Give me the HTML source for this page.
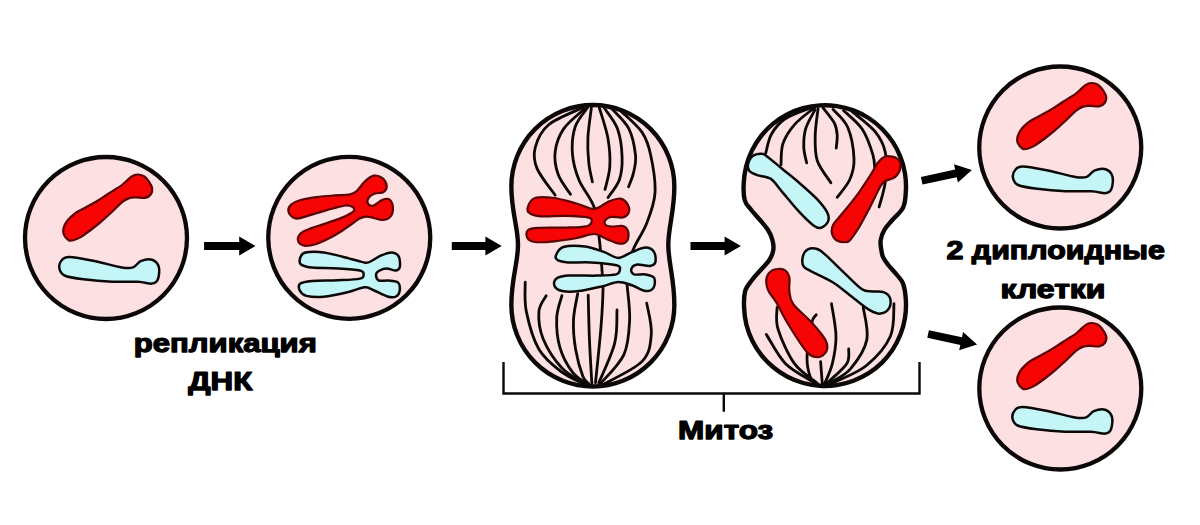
<!DOCTYPE html>
<html><head><meta charset="utf-8"><style>html,body{margin:0;padding:0;background:#fff;overflow:hidden}svg{display:block}</style></head><body>
<svg width="1200" height="525" viewBox="0 0 1200 525">
<rect width="1200" height="525" fill="#fff"/>
<circle cx="106" cy="238" r="81" fill="#fde0e1" stroke="#0c0808" stroke-width="4.3"/>
<circle cx="349.25" cy="237.8" r="81" fill="#fde0e1" stroke="#0c0808" stroke-width="4.3"/>
<circle cx="1060.25" cy="147.5" r="81" fill="#fde0e1" stroke="#0c0808" stroke-width="4.3"/>
<circle cx="1060.3" cy="388.5" r="81" fill="#fde0e1" stroke="#0c0808" stroke-width="4.3"/>
<path d="M68.6 240.2C66.9 239.2 64.4 236 63.6 234C62.8 232 63 230.2 63.6 228C64.2 225.8 65.6 222.9 67.5 220.5C69.4 218.1 72 215.5 75 213.3C78 211.1 82 209.4 85.5 207.5C89 205.6 92.4 203.9 95.9 201.8C99.4 199.7 103.2 197 106.4 195C109.6 193 112.2 191.4 114.8 189.7C117.4 188 119.2 187.2 122 185C124.8 182.8 129.1 178.2 131.7 176.4C134.3 174.7 135.4 174.6 137.4 174.5C139.4 174.4 141.8 175.1 143.5 176C145.2 176.9 146.5 178.2 147.9 180.2C149.3 182.2 151.6 185.5 152.1 187.9C152.6 190.3 151.9 192.8 150.7 194.5C149.5 196.2 147.4 197.4 145 197.9C142.6 198.4 138.9 197.4 136.4 197.4C133.9 197.4 132.2 197.1 129.8 197.9C127.4 198.7 125.1 199.7 122.1 202.1C119.1 204.5 115.1 208.9 111.6 212.2C108.1 215.4 104.7 218.6 101.2 221.6C97.7 224.6 94.2 227.4 90.7 230C87.2 232.6 83 235.7 80.2 237.4C77.4 239.1 75.9 239.5 74 240C72.1 240.5 70.3 241.2 68.6 240.2Z" fill="#f70505" stroke="#5a0404" stroke-width="2.2" stroke-linejoin="round"/>
<path d="M59.3 267.9C58.9 265.3 60.3 261.8 62 260C63.7 258.2 64.1 256.8 69.3 256.9C74.5 257 84.4 258.9 93.1 260.7C101.8 262.4 115 266.3 121.7 267.4C128.4 268.5 129.9 268.4 133.1 267.4C136.3 266.4 137.5 262.5 140.7 261.2C143.9 259.9 149.1 258.9 152.1 259.8C155.1 260.8 157.8 263.6 158.8 266.9C159.8 270.1 159 276.5 157.9 279.3C156.8 282.1 155.4 283.2 152.1 283.6C148.8 284 144.6 282 137.9 281.7C131.2 281.4 121.1 282.1 112.1 281.7C103 281.3 91.5 280.3 83.6 279.3C75.7 278.3 68.5 277.4 64.5 275.5C60.5 273.6 59.7 270.5 59.3 267.9Z" fill="#c4f6f8" stroke="#0c0808" stroke-width="2.5" stroke-linejoin="round"/>
<path d="M288.3 210.5C288.1 208.4 289.3 206.1 291.4 204.3C293.5 202.6 296.5 201.2 300.7 200C304.9 198.8 310.7 197.9 316.4 197.1C322.1 196.3 329.5 195.8 335 195.4C340.5 195 345.7 195.3 349.3 194.6C352.9 193.9 353.8 193.6 356.4 191.4C359 189.2 362.1 184 365 181.4C367.9 178.8 370.8 176.3 373.6 175.7C376.5 175.1 379.9 176.2 382.1 177.9C384.3 179.6 386.4 183.3 386.7 185.7C386.9 188.1 385.6 190.8 383.6 192.1C381.7 193.4 377.5 192.6 375 193.6C372.5 194.6 369.8 196.2 368.6 197.9C367.4 199.6 367.2 202.3 367.9 203.6C368.6 204.9 370.5 206.3 372.9 205.7C375.3 205.1 379.4 201.1 382.1 200C384.8 198.9 387.5 198.1 389.3 199.3C391.1 200.5 392.7 204.2 392.9 207.1C393.1 209.9 392.5 214.2 390.7 216.4C388.9 218.6 385.4 219.9 382.1 220C378.8 220.1 373.6 217.6 370.7 217.1C367.8 216.6 366.6 216.5 364.6 216.8C362.6 217.1 360.8 217.8 358.6 219C356.5 220.2 354.6 222 351.7 224C348.8 226 345.2 228.8 341.4 231.2C337.5 233.6 332.9 236.4 328.6 238.6C324.3 240.8 319.6 243 315.7 244.2C311.8 245.4 308 245.8 305.4 245.8C302.8 245.8 301.6 245.1 300.3 244.2C299.1 243.2 298.1 241.5 297.9 240.1C297.6 238.7 298 237.2 298.8 235.8C299.6 234.4 300.8 232.9 302.9 231.6C305 230.3 307.8 229.4 311.4 228.1C315 226.8 319.3 225.6 324.3 223.9C329.3 222.2 337 219.6 341.4 217.9C345.8 216.2 348.4 214.8 350.5 213.5C352.6 212.2 353.9 211.4 354.2 210.3C354.5 209.2 353.7 207.7 352.3 206.9C350.9 206.1 348.9 205.2 345.7 205.5C342.4 205.8 337.8 207.2 332.8 208.5C327.8 209.8 321.4 211.8 315.7 213.4C310 215.1 302.5 217.8 298.6 218.4C294.7 219 294 218.3 292.3 217C290.6 215.7 288.5 212.6 288.3 210.5Z" fill="#f70505" stroke="#5a0404" stroke-width="2.2" stroke-linejoin="round"/>
<path d="M299.7 259.9C300 258 301.4 254.8 303 253.5C304.6 252.2 305.9 252.1 309.3 251.9C312.7 251.7 318.1 251.6 323.6 252.4C329.2 253.2 336.2 255.1 342.6 256.7C349 258.3 357.4 260.9 361.7 261.9C366 262.8 365.3 263.4 368.5 262.4C371.7 261.4 376.8 257.4 380.7 255.7C384.6 254 389.1 252.2 392.1 252.4C395.1 252.6 397.5 254.2 398.8 256.7C400.1 259.1 400.3 264.8 399.8 267.1C399.3 269.4 398.2 270.2 396 270.5C393.8 270.8 389.3 268.5 386.4 268.6C383.5 268.7 380.5 270 378.8 271C377.1 272 376 273.2 376 274.8C376 276.4 376.8 279.6 378.8 280.5C380.9 281.4 385.1 280.2 388.3 280.5C391.5 280.8 396 280.8 397.9 282.4C399.8 284 400.1 287.6 399.8 290C399.5 292.4 398.1 295.4 396 296.5C393.9 297.6 391.2 297.6 387.4 296.5C383.6 295.4 376.9 291.5 373.1 290C369.3 288.5 368.8 286.9 364.5 287.3C360.2 287.7 354.2 290.7 347.4 292.3C340.6 293.9 330.4 296.2 323.6 296.8C316.8 297.4 310.4 296.9 306.4 295.9C302.4 294.8 300.8 292.6 299.8 290.5C298.8 288.4 298.2 285.2 300.3 283.6C302.4 282 305.8 281.6 312.1 281C318.4 280.4 329.9 280.7 337.9 280.3C345.8 279.9 355.5 279.6 359.8 278.6C364.1 277.7 363.6 276 363.6 274.6C363.6 273.2 364.1 271.5 359.8 270.5C355.5 269.5 345.8 268.9 337.9 268.4C329.9 267.9 318.2 268.2 312.1 267.6C306 267 303.3 265.9 301.2 264.6C299.1 263.3 299.4 261.8 299.7 259.9Z" fill="#c4f6f8" stroke="#0c0808" stroke-width="2.5" stroke-linejoin="round"/>
<path d="M1022.6 148.7C1020.9 147.7 1018.4 144.5 1017.6 142.5C1016.8 140.5 1017 138.8 1017.6 136.5C1018.2 134.2 1019.6 131.4 1021.5 129C1023.4 126.5 1026 124 1029 121.8C1032 119.6 1036 117.9 1039.5 116C1043 114.1 1046.4 112.4 1049.9 110.3C1053.4 108.2 1057.2 105.5 1060.4 103.5C1063.6 101.5 1066.2 99.9 1068.8 98.2C1071.4 96.5 1073.2 95.7 1076 93.5C1078.8 91.3 1083.1 86.7 1085.7 84.9C1088.3 83.2 1089.4 83.1 1091.4 83C1093.4 82.9 1095.8 83.5 1097.5 84.5C1099.2 85.5 1100.5 86.7 1101.9 88.7C1103.3 90.7 1105.6 94 1106.1 96.4C1106.6 98.8 1105.9 101.3 1104.7 103C1103.5 104.7 1101.4 105.9 1099 106.4C1096.6 106.9 1092.9 105.9 1090.4 105.9C1087.9 105.9 1086.2 105.6 1083.8 106.4C1081.4 107.2 1079.1 108.2 1076.1 110.6C1073.1 113 1069.1 117.4 1065.6 120.7C1062.1 123.9 1058.7 127.1 1055.2 130.1C1051.7 133.1 1048.2 135.9 1044.7 138.5C1041.2 141.1 1037 144.2 1034.2 145.9C1031.4 147.6 1029.9 148 1028 148.5C1026.1 149 1024.3 149.7 1022.6 148.7Z" fill="#f70505" stroke="#5a0404" stroke-width="2.2" stroke-linejoin="round"/>
<path d="M1012.9 177.4C1012.5 174.8 1013.9 171.3 1015.6 169.5C1017.3 167.7 1017.7 166.3 1022.9 166.4C1028.1 166.5 1038 168.4 1046.7 170.2C1055.4 171.9 1068.6 175.8 1075.3 176.9C1082 178 1083.5 177.9 1086.7 176.9C1089.9 175.9 1091.1 172 1094.3 170.7C1097.5 169.4 1102.7 168.4 1105.7 169.3C1108.7 170.2 1111.4 173.1 1112.4 176.4C1113.4 179.6 1112.6 186 1111.5 188.8C1110.4 191.6 1109 192.7 1105.7 193.1C1102.4 193.5 1098.2 191.5 1091.5 191.2C1084.8 190.9 1074.8 191.6 1065.7 191.2C1056.7 190.8 1045.1 189.8 1037.2 188.8C1029.3 187.8 1022.2 186.9 1018.1 185C1014 183.1 1013.3 180 1012.9 177.4Z" fill="#c4f6f8" stroke="#0c0808" stroke-width="2.5" stroke-linejoin="round"/>
<path d="M1022.7 388.7C1021 387.7 1018.5 384.5 1017.7 382.5C1016.9 380.5 1017.1 378.8 1017.7 376.5C1018.4 374.2 1019.7 371.4 1021.6 369C1023.5 366.6 1026.1 364 1029.1 361.8C1032.1 359.6 1036.1 357.9 1039.6 356C1043.1 354.1 1046.5 352.4 1050 350.3C1053.5 348.2 1057.3 345.5 1060.5 343.5C1063.7 341.5 1066.3 339.9 1068.9 338.2C1071.5 336.5 1073.3 335.7 1076.1 333.5C1078.9 331.3 1083.2 326.6 1085.8 324.9C1088.4 323.1 1089.5 323.1 1091.5 323C1093.5 322.9 1095.8 323.6 1097.6 324.5C1099.3 325.4 1100.6 326.7 1102 328.7C1103.4 330.7 1105.7 334 1106.2 336.4C1106.7 338.8 1106 341.3 1104.8 343C1103.6 344.7 1101.5 345.9 1099.1 346.4C1096.7 346.9 1093 345.9 1090.5 345.9C1088 345.9 1086.3 345.6 1083.9 346.4C1081.5 347.2 1079.2 348.2 1076.2 350.6C1073.2 353 1069.2 357.4 1065.7 360.7C1062.2 363.9 1058.8 367.1 1055.3 370.1C1051.8 373.1 1048.3 375.9 1044.8 378.5C1041.3 381.1 1037.1 384.2 1034.3 385.9C1031.5 387.6 1030 388 1028.1 388.5C1026.2 389 1024.4 389.7 1022.7 388.7Z" fill="#f70505" stroke="#5a0404" stroke-width="2.2" stroke-linejoin="round"/>
<path d="M1012.4 417.9C1012 415.3 1013.4 411.8 1015.1 410C1016.8 408.2 1017.2 406.8 1022.4 406.9C1027.6 407 1037.5 408.9 1046.2 410.7C1054.9 412.4 1068.1 416.3 1074.8 417.4C1081.5 418.5 1083 418.4 1086.2 417.4C1089.4 416.4 1090.6 412.5 1093.8 411.2C1097 409.9 1102.2 408.9 1105.2 409.8C1108.2 410.8 1110.9 413.6 1111.9 416.9C1112.9 420.1 1112.1 426.5 1111 429.3C1109.9 432.1 1108.5 433.2 1105.2 433.6C1101.9 434 1097.7 432 1091 431.7C1084.3 431.4 1074.2 432.1 1065.2 431.7C1056.2 431.3 1044.6 430.3 1036.7 429.3C1028.8 428.3 1021.7 427.4 1017.6 425.5C1013.5 423.6 1012.8 420.5 1012.4 417.9Z" fill="#c4f6f8" stroke="#0c0808" stroke-width="2.5" stroke-linejoin="round"/>
<path d="M511.35 186.5 A81.5 81.5 0 0 1 674.35 186.5 C674.35 212 668.3 227 668.3 245 C668.3 263 674.35 278 674.35 305 A81.5 81.5 0 0 1 511.35 305 C511.35 278 518 263 518 245 C518 227 511.35 212 511.35 186.5 Z" fill="#fde0e1" stroke="#0c0808" stroke-width="4.4"/>
<path d="M744.8 200.5C743.6 196.1 743.4 189.1 743.7 183.5C743.9 177.8 744.7 172.1 746.1 166.6C747.4 161.1 749.4 155.7 751.9 150.6C754.4 145.5 757.5 140.6 761 136.1C764.5 131.7 768.6 127.5 772.9 123.9C777.3 120.3 782.1 117.1 787.1 114.5C792.1 111.8 797.5 109.7 803 108.2C808.4 106.7 814.2 105.7 819.8 105.4C825.4 105 831.3 105.3 836.8 106.1C842.4 106.9 848.1 108.4 853.4 110.4C858.6 112.4 863.8 115 868.6 118C873.4 121.1 877.9 124.7 881.9 128.7C885.9 132.7 889.6 137.2 892.7 141.9C895.8 146.6 898.5 151.8 900.5 157.1C902.6 162.3 904.1 167.9 905 173.5C905.9 179.1 906.2 184.9 905.9 190.6C905.6 196.2 905.5 202.5 903.2 207.4C901 212.3 895.5 216.2 892.3 220C889.1 223.8 886.2 226.7 884.3 230C882.4 233.3 881.2 237 880.7 240C880.2 243 880.6 245.2 881 248C881.4 250.8 881.8 254.2 883 257C884.2 259.8 886 262 888.3 265C890.6 268 894.5 271.8 897 275C899.5 278.2 901.8 279.7 903.2 284C904.7 288.3 905.6 295.2 905.9 300.8C906.2 306.5 905.9 312.3 905 317.8C904.1 323.4 902.6 329 900.5 334.3C898.5 339.5 895.8 344.7 892.8 349.4C889.7 354.1 886 358.6 882 362.6C878 366.5 873.4 370.2 868.7 373.2C863.9 376.2 858.8 378.8 853.5 380.8C848.2 382.8 842.6 384.3 837 385.1C831.4 385.9 825.6 386.2 820 385.8C814.4 385.5 808.7 384.5 803.2 383C797.8 381.5 792.4 379.4 787.4 376.8C782.4 374.1 777.6 370.9 773.3 367.3C768.9 363.7 764.9 359.6 761.4 355.1C757.9 350.7 754.8 345.8 752.3 340.7C749.8 335.7 747.8 330.2 746.4 324.8C745.1 319.3 744.3 313.5 744.1 307.9C743.8 302.3 743.9 295.6 745.2 290.9C746.6 286.3 749.4 283.5 752 280C754.6 276.5 757.8 273.3 760.7 270C763.6 266.7 767.2 263.3 769.3 260C771.4 256.7 772.8 253.3 773.3 250C773.8 246.7 773.3 243.3 772.4 240C771.5 236.7 770.1 233.3 768 230C765.9 226.7 762.8 223.3 760 220C757.2 216.7 753.8 213.2 751.3 210C748.8 206.8 746.1 204.9 744.8 200.5Z" fill="#fde0e1" stroke="#0c0808" stroke-width="4.4"/>
<path d="M582.9 107.6C577.2 110.5 556.5 118.1 548.6 124.8C540.7 131.5 537.1 140.3 535.2 147.6C533.3 154.9 533.8 160.7 537.1 168.6C540.4 176.5 552.2 190.8 555.2 195.2" fill="none" stroke="#0c0808" stroke-width="2.8" stroke-linecap="round"/>
<path d="M584.8 108.6C581.3 111.9 568.7 121.5 563.8 128.6C558.9 135.7 556.2 143.8 555.2 151.4C554.2 159 555.6 167.2 558.1 174.3C560.6 181.5 568.4 191 570.5 194.3" fill="none" stroke="#0c0808" stroke-width="2.8" stroke-linecap="round"/>
<path d="M587.6 107.6C585.5 110.8 577.7 119.1 575.2 126.7C572.7 134.3 571.8 144.4 572.4 153.3C573 162.2 575.4 171.1 579 180C582.6 188.9 590.6 197 594 207C597.4 217 598.1 229.5 599.4 240C600.7 250.5 601.4 261.7 602 270C602.6 278.3 603.2 280.5 603 290C602.8 299.5 602.2 311.6 601 327C599.8 342.4 596.4 373.4 595.5 382.7" fill="none" stroke="#0c0808" stroke-width="2.8" stroke-linecap="round"/>
<path d="M591.4 107.6C590.8 112.7 588.3 128.8 587.9 138C587.5 147.2 588 155.6 588.8 162.9C589.5 170.2 591.8 178.7 592.4 181.9" fill="none" stroke="#0c0808" stroke-width="2.8" stroke-linecap="round"/>
<path d="M599.3 107.6C600.7 112.7 606.1 128.2 607.9 138C609.6 147.8 610.3 158.1 609.8 166.7C609.3 175.3 605.8 185.7 605 189.5" fill="none" stroke="#0c0808" stroke-width="2.8" stroke-linecap="round"/>
<path d="M604 107.6C606.2 111.1 614.4 120.3 617.4 128.6C620.4 136.8 621.8 148.5 622.1 157.1C622.4 165.7 621.6 173.3 619.3 180C616.9 186.7 609.9 194.6 608 197.5" fill="none" stroke="#0c0808" stroke-width="2.8" stroke-linecap="round"/>
<path d="M611.7 108.6C614.6 111.9 624.8 120.8 628.8 128.6C632.8 136.4 634.7 147.9 635.5 155.2C636.3 162.5 634.8 167.1 633.6 172.4C632.5 177.7 629.4 184.4 628.6 186.8" fill="none" stroke="#0c0808" stroke-width="2.8" stroke-linecap="round"/>
<path d="M621.2 111.4C624.7 114.9 637.2 125.1 642.1 132.4C647 139.7 648.6 145.1 650.7 155.2C652.9 165.3 655.7 181.5 655 192.9C654.3 204.3 650.3 213.9 646.6 223.4C642.9 232.9 636.4 241.4 633 250C629.6 258.6 627 268.8 626 275C625 281.2 626.7 279.6 627.3 287.1C627.9 294.7 630.2 309.1 629.6 320.3C629 331.6 628.7 344.1 623.9 354.6C619.1 365.1 604.8 378.4 601 383.1" fill="none" stroke="#0c0808" stroke-width="2.8" stroke-linecap="round"/>
<path d="M525.2 282.1C525.4 287 524 300.2 526.3 311.4C528.6 322.6 533 339.1 538.9 349.2C544.8 359.3 554.4 366.4 561.9 372.2C569.4 378 580.3 382 584 384" fill="none" stroke="#0c0808" stroke-width="2.8" stroke-linecap="round"/>
<path d="M546.2 295.7C545 298.3 539.4 304.2 538.9 311.4C538.4 318.6 539.3 329.3 543.1 338.7C546.9 348.1 554.9 360.4 561.9 368C568.9 375.6 581.1 381.3 585 384" fill="none" stroke="#0c0808" stroke-width="2.8" stroke-linecap="round"/>
<path d="M561.9 295.7C561 299.4 557.1 309.1 556.7 317.7C556.4 326.3 557.2 338 559.8 347.1C562.4 356.2 567.9 366.1 572.4 372.2C576.9 378.3 584.6 382 587 384" fill="none" stroke="#0c0808" stroke-width="2.8" stroke-linecap="round"/>
<path d="M577.7 293.6C577 298 573.9 310.5 573.5 319.8C573.1 329.1 574 339.8 575.6 349.2C577.2 358.6 580.7 370.6 582.9 376.4C585.1 382.2 588 382.7 589 384" fill="none" stroke="#0c0808" stroke-width="2.8" stroke-linecap="round"/>
<path d="M588.2 295.1C588.4 302.4 588.8 323.7 589.4 338.6C590 353.5 591.5 376.7 591.9 384.3" fill="none" stroke="#0c0808" stroke-width="2.8" stroke-linecap="round"/>
<path d="M617 310C616.6 315.5 617.8 330.9 614.7 343.1C611.7 355.3 601.4 376.4 598.7 383" fill="none" stroke="#0c0808" stroke-width="2.8" stroke-linecap="round"/>
<path d="M646.7 303.1C647.5 308.2 652.1 324.3 651.3 334C650.5 343.7 650.1 353 642.1 361.4C634.1 369.8 609.8 380.5 603.3 384.3" fill="none" stroke="#0c0808" stroke-width="2.8" stroke-linecap="round"/>
<path d="M811.4 107.6C807 109.5 791.5 114.5 784.8 119C778.1 123.5 774.6 128.6 771.4 134.3C768.2 140 766.7 150.1 765.7 153.3" fill="none" stroke="#0c0808" stroke-width="2.8" stroke-linecap="round"/>
<path d="M813.3 108.6C810.1 111.3 799.4 118.9 794.3 124.8C789.2 130.7 785.1 137.1 782.9 143.8C780.7 150.5 781.3 161.3 781 164.8" fill="none" stroke="#0c0808" stroke-width="2.8" stroke-linecap="round"/>
<path d="M815.2 109.5C813.6 112.7 807.6 122.2 805.7 128.6C803.8 134.9 803.6 141.9 803.8 147.6C804 153.3 806.2 160.3 806.7 162.9" fill="none" stroke="#0c0808" stroke-width="2.8" stroke-linecap="round"/>
<path d="M818.1 108.6C817.6 113.1 815.3 126.9 815.2 135.6C815.1 144.3 814.7 152.8 817.3 160.7C819.9 168.5 828.6 179 830.9 182.7" fill="none" stroke="#0c0808" stroke-width="2.8" stroke-linecap="round"/>
<path d="M822.9 107.6C824.8 110.1 831.9 118.3 834.3 122.9C836.7 127.5 836.9 130.8 837.2 135C837.5 139.2 836.4 145.9 836.2 148.1" fill="none" stroke="#0c0808" stroke-width="2.8" stroke-linecap="round"/>
<path d="M833 109.4C835.5 112.4 844.2 119 847.7 127.2C851.2 135.4 853.6 149.9 854 158.6C854.4 167.3 852.6 173.1 849.8 179.5C847 185.9 839.3 194.3 837.2 197.3" fill="none" stroke="#0c0808" stroke-width="2.8" stroke-linecap="round"/>
<path d="M843.5 110.5C846.6 113.6 857.4 122 862.3 129.3C867.2 136.6 870.7 147.6 872.8 154.4C874.9 161.2 874.5 167.4 874.9 170" fill="none" stroke="#0c0808" stroke-width="2.8" stroke-linecap="round"/>
<path d="M851.9 111.5C855.7 114.8 869.3 124.6 874.9 131.4C880.5 138.2 883.6 143.9 885.3 152.3C887 160.7 886.3 172.5 885.3 181.6C884.3 190.7 880.1 202.8 879.1 207" fill="none" stroke="#0c0808" stroke-width="2.8" stroke-linecap="round"/>
<path d="M766.3 334.4C769.5 339.2 777.6 355.5 785.3 363.4C793 371.2 807 377.9 812.5 381.5C818 385.1 817.1 384.4 818 385" fill="none" stroke="#0c0808" stroke-width="2.8" stroke-linecap="round"/>
<path d="M777.1 307.2C777.2 310.8 775.1 319.6 778 329C780.9 338.4 787.9 354.5 794.3 363.4C800.6 372.3 812 378.8 816.1 382.4C820.2 386 818.5 384.6 819 385" fill="none" stroke="#0c0808" stroke-width="2.8" stroke-linecap="round"/>
<path d="M816.2 314.8C815.4 316.3 813.1 316.4 811.6 323.6C810.1 330.8 807.1 348.9 807 358C806.9 367.1 808.9 373.4 810.7 377.9C812.5 382.4 816.8 383.8 818 385" fill="none" stroke="#0c0808" stroke-width="2.8" stroke-linecap="round"/>
<path d="M820.6 361.6C820.9 365.5 822.1 381.1 822.4 385" fill="none" stroke="#0c0808" stroke-width="2.8" stroke-linecap="round"/>
<path d="M831.5 303.6C832.2 309 835.9 326.2 836 336.2C836.1 346.2 834.2 355.7 832.4 363.4C830.6 371.1 826.7 378.8 825.1 382.4C823.5 386 823.4 384.6 823 385" fill="none" stroke="#0c0808" stroke-width="2.8" stroke-linecap="round"/>
<path d="M848.7 348.9C848.4 351.3 850.2 358 846.9 363.4C843.6 368.8 832.4 377.9 828.8 381.5C825.1 385.1 825.6 384.4 825 385" fill="none" stroke="#0c0808" stroke-width="2.8" stroke-linecap="round"/>
<path d="M863.2 307.2C863.8 312.6 868.9 329.6 866.8 339.9C864.7 350.2 856.5 361.7 850.5 368.8C844.5 375.9 834.7 379.7 830.6 382.4C826.5 385.1 826.8 384.6 826 385" fill="none" stroke="#0c0808" stroke-width="2.8" stroke-linecap="round"/>
<path d="M894 303.6C893.4 309 894.9 325.9 890.4 336.2C885.9 346.5 875.9 357.6 866.8 365.2C857.7 372.8 842.5 378.2 836 381.5C829.5 384.8 829.3 384.4 828 385" fill="none" stroke="#0c0808" stroke-width="2.8" stroke-linecap="round"/>
<path d="M528 206.5C528.9 204 530.5 199.4 534.9 198C539.3 196.6 547.3 197.1 554.3 198C561.3 198.9 570.4 201.9 577.1 203.7C583.8 205.5 589 209.3 594.3 208.9C599.6 208.5 604.7 203.1 609.1 201.4C613.5 199.7 617.5 198 620.6 198.6C623.8 199.2 626.7 202.5 628 204.9C629.3 207.3 629.5 210.8 628.6 212.9C627.8 215 625.8 216.7 622.9 217.4C620 218.1 614.3 216.5 611.4 216.9C608.5 217.3 606.8 218.5 605.7 219.7C604.7 220.9 604.2 223.2 605.1 224.3C606 225.5 608.4 226.3 611.4 226.6C614.4 226.9 620.1 225.2 622.9 226C625.7 226.8 627.2 228.7 628 231.1C628.8 233.5 628.8 238.2 627.4 240.3C626 242.4 622.8 243.9 619.4 243.7C616 243.5 611.1 240.7 606.9 239.1C602.7 237.5 599.3 234.2 594.3 234C589.3 233.8 583.8 236.8 577.1 238C570.4 239.2 561.3 240.7 554.3 241.4C547.3 242.1 539.4 242.6 534.9 242C530.4 241.4 528.5 240 527.4 238C526.2 236 525.8 231.7 528 230C530.2 228.3 534.3 228.2 540.6 227.8C546.9 227.4 558.1 227.8 565.7 227.6C573.3 227.3 582 227.2 586.3 226.3C590.6 225.4 591 223.9 591.4 222.4C591.8 220.9 592.9 218.7 588.6 217.6C584.3 216.5 573.7 216.1 565.7 215.9C557.7 215.7 546.6 216.8 540.6 216.3C534.6 215.9 531.6 214.8 529.5 213.2C527.4 211.6 527.1 209 528 206.5Z" fill="#f70505" stroke="#5a0404" stroke-width="2.2" stroke-linejoin="round"/>
<path d="M555.9 255.6C556.8 253.4 558.4 248.5 563.3 247C568.1 245.5 578.1 245.6 585 246.4C591.9 247.2 598.9 250.2 604.4 252.1C609.9 254 613.5 257.9 618.1 257.9C622.7 257.9 627.3 253.8 631.9 252.1C636.5 250.4 641.9 247.6 645.6 247.6C649.3 247.6 652.5 249.6 654.1 252.1C655.7 254.6 656 260.1 655.3 262.4C654.6 264.7 653.2 265.5 650.1 265.9C647 266.3 639.5 264.1 636.4 264.7C633.3 265.3 631.7 267.7 631.3 269.3C630.9 270.9 631.7 273.5 634.1 274.4C636.5 275.2 642.3 273.8 645.6 274.4C648.9 275 652.8 275.7 654.1 277.9C655.4 280.1 655 285.4 653.6 287.6C652.2 289.8 649.2 291.4 645.6 291C642 290.6 636.5 286.8 631.9 285.3C627.3 283.8 623.1 281.7 618.1 281.9C613.1 282.1 608.6 284.9 602.1 286.4C595.6 287.9 586 290.2 579.3 291C572.6 291.8 566.2 291.8 562.1 291C558 290.2 555.7 288.4 554.7 286.4C553.7 284.4 553.7 280.8 555.9 279C558.1 277.2 561.1 276.2 567.9 275.6C574.6 275 588.4 275.8 596.4 275.6C604.4 275.4 612 275.4 615.9 274.4C619.8 273.3 619.8 270.8 619.9 269.3C620 267.8 621.3 266.5 616.4 265.3C611.5 264.1 598.8 262.9 590.7 262.4C582.6 261.9 573.4 262.8 567.9 262.4C562.4 262 559.6 261.2 557.6 260.1C555.6 259 555 257.8 555.9 255.6Z" fill="#c4f6f8" stroke="#0c0808" stroke-width="2.5" stroke-linejoin="round"/>
<path d="M748 164.5C748.5 162 750.3 157.9 752.6 156.1C754.9 154.3 759.3 153.7 761.8 153.8C764.3 153.9 764.5 154.5 767.8 156.9C771.1 159.3 776.4 164.1 781.5 168.3C786.6 172.5 792.4 176.9 798.3 182C804.1 187.1 811.8 193.6 816.6 198.7C821.4 203.8 825.3 208.6 827.2 212.4C829.1 216.2 829 219.1 828 221.6C827 224.1 823.5 227.1 821.1 227.7C818.7 228.3 817.3 228.2 813.5 225.4C809.7 222.6 803.6 216.6 798.3 210.9C793 205.2 786.1 196.4 781.5 191.1C776.9 185.8 774.9 181.6 770.9 178.9C766.9 176.2 760.8 176.4 757.2 175.1C753.7 173.8 751.1 173.1 749.6 171.3C748.1 169.5 747.5 167 748 164.5Z" fill="#c4f6f8" stroke="#0c0808" stroke-width="2.5" stroke-linejoin="round"/>
<path d="M831.6 231.4C831.7 233.7 832.8 236.3 834 238C835.2 239.7 837.1 240.7 838.9 241.4C840.7 242.1 843.2 242.2 845 242C846.8 241.8 847.4 242.9 849.7 240.5C852 238.1 855.5 233.2 858.8 227.8C862.1 222.4 866 214.8 869.6 207.9C873.2 201 877.8 190.7 880.5 186.2C883.2 181.7 883.5 182.3 885.9 180.8C888.3 179.3 892.6 179.2 895 177.1C897.4 175 899.9 171.1 900.4 168.1C900.9 165.1 900.1 161 897.7 159C895.3 157 889.2 155.7 885.9 156.3C882.6 156.9 880.2 159.8 877.8 162.7C875.4 165.6 874.9 168.1 871.4 173.5C867.9 178.9 861.8 188.6 857 195.2C852.2 201.8 846.4 208.5 842.5 213.3C838.6 218.1 835.2 221.2 833.4 224.2C831.6 227.2 831.5 229.1 831.6 231.4Z" fill="#f70505" stroke="#5a0404" stroke-width="2.2" stroke-linejoin="round"/>
<path d="M766.4 279C767 275.7 769.2 272.1 772.1 270.5C775 268.9 780.7 268.4 783.6 269.5C786.5 270.6 788.3 273.6 789.3 277.1C790.2 280.6 788.7 286.1 789.3 290.5C789.9 294.9 789.3 298.4 793.1 303.8C796.9 309.2 806.7 316.9 812.1 322.9C817.5 328.9 823.1 335.2 825.5 340C827.9 344.8 827.7 348.5 826.4 351.4C825.1 354.2 821.2 357.1 817.9 357.1C814.6 357.1 811.5 357.1 806.4 351.4C801.3 345.7 792.5 331.1 787.4 322.9C782.3 314.6 779.2 307.3 776 301.9C772.8 296.5 769.9 294.3 768.3 290.5C766.7 286.7 765.8 282.3 766.4 279Z" fill="#f70505" stroke="#5a0404" stroke-width="2.2" stroke-linejoin="round"/>
<path d="M802.9 256.4C803.6 253.5 805.4 250.5 807.9 249.3C810.4 248.1 814.8 248.2 817.9 249.3C821 250.4 821.9 251.6 826.4 255.7C830.9 259.8 839 268 845 273.6C851 279.2 857.6 286.3 862.1 289.3C866.6 292.3 868.5 290.9 872.1 291.4C875.7 291.9 880.6 291 883.6 292.1C886.6 293.2 889 295.3 890 297.9C891 300.5 890.8 305.3 889.3 307.9C887.8 310.5 883.8 313.1 880.7 313.6C877.6 314.1 875 313.1 870.7 310.7C866.4 308.3 861 303.8 855 299.3C849 294.8 841.4 288.1 835 283.8C828.6 279.6 821.6 276.7 816.4 273.8C811.2 270.9 806 269.4 803.8 266.5C801.5 263.6 802.2 259.3 802.9 256.4Z" fill="#c4f6f8" stroke="#0c0808" stroke-width="2.5" stroke-linejoin="round"/>
<polygon transform="translate(204.1 246) rotate(0)" points="0,-3.9 35.1,-3.9 35.1,-9.4 51.4,0 35.1,9.4 35.1,3.9 0,3.9" fill="#000"/>
<polygon transform="translate(451.8 246) rotate(0)" points="0,-3.9 33.6,-3.9 33.6,-9.4 49.9,0 33.6,9.4 33.6,3.9 0,3.9" fill="#000"/>
<polygon transform="translate(690.5 246) rotate(0)" points="0,-3.9 34.1,-3.9 34.1,-9.4 50.4,0 34.1,9.4 34.1,3.9 0,3.9" fill="#000"/>
<polygon transform="translate(921.7 180.7) rotate(-12)" points="0,-3.9 35,-3.9 35,-9.4 51.3,0 35,9.4 35,3.9 0,3.9" fill="#000"/>
<polygon transform="translate(928.1 334) rotate(12.1)" points="0,-3.9 33.8,-3.9 33.8,-9.4 50.1,0 33.8,9.4 33.8,3.9 0,3.9" fill="#000"/>
<path d="M503.5 362V393.5H919.5V362M723.8 393.5V411.7" fill="none" stroke="#0c0808" stroke-width="2.4"/>
<text x="133.8" y="352.4" font-size="25.5" font-family="Liberation Sans" font-weight="bold" fill="#000" stroke="#000" stroke-width="1.25" stroke-linejoin="round" textLength="183" lengthAdjust="spacingAndGlyphs">репликация</text>
<text x="188.3" y="390.4" font-size="25.5" font-family="Liberation Sans" font-weight="bold" fill="#000" stroke="#000" stroke-width="1.25" stroke-linejoin="round" textLength="64" lengthAdjust="spacingAndGlyphs">ДНК</text>
<text x="678.1" y="439.2" font-size="25.5" font-family="Liberation Sans" font-weight="bold" fill="#000" stroke="#000" stroke-width="1.25" stroke-linejoin="round" textLength="95" lengthAdjust="spacingAndGlyphs">Митоз</text>
<text x="946.5" y="259.4" font-size="25.5" font-family="Liberation Sans" font-weight="bold" fill="#000" stroke="#000" stroke-width="1.25" stroke-linejoin="round" textLength="218.5" lengthAdjust="spacingAndGlyphs">2 диплоидные</text>
<text x="1000.5" y="298.2" font-size="25.5" font-family="Liberation Sans" font-weight="bold" fill="#000" stroke="#000" stroke-width="1.25" stroke-linejoin="round" textLength="105" lengthAdjust="spacingAndGlyphs">клетки</text>
</svg>
</body></html>
